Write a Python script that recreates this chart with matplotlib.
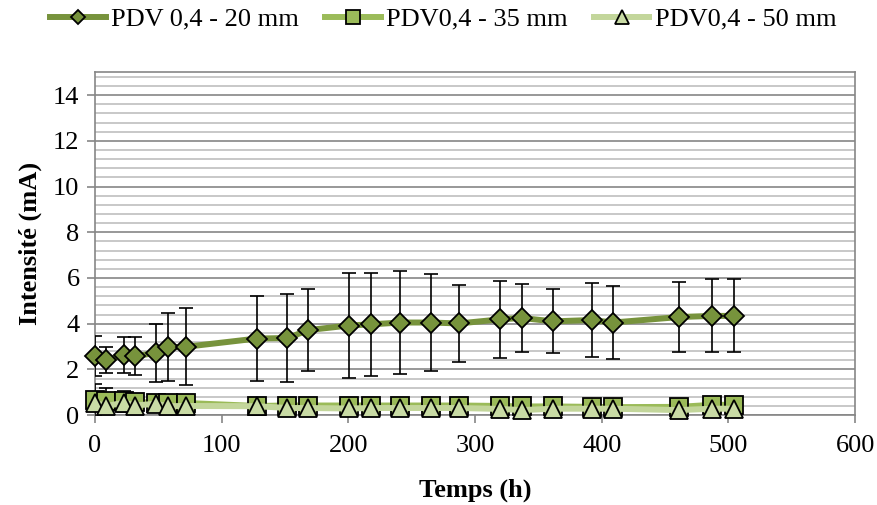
import matplotlib
matplotlib.use('Agg')
import matplotlib.pyplot as plt
from matplotlib.ticker import MultipleLocator

plt.rcParams['font.family'] = ['Liberation Serif', 'DejaVu Serif']

# temps (h)
x_data = [0, 9, 23, 32, 48, 57.5, 72, 128, 152, 168.5, 200.5, 218, 241, 265, 287.5,
          320, 337, 361.5, 392, 409, 461, 487, 504]

# PDV 0,4 - 20 mm
y_20 = [2.58, 2.42, 2.63, 2.57, 2.73, 2.97, 2.99, 3.35, 3.37, 3.72, 3.92, 3.97, 4.05,
        4.05, 4.01, 4.19, 4.25, 4.10, 4.16, 4.05, 4.29, 4.34, 4.34]
err_20 = [0.87, 0.57, 0.77, 0.83, 1.27, 1.48, 1.68, 1.86, 1.91, 1.78, 2.31, 2.26, 2.26,
          2.12, 1.68, 1.68, 1.48, 1.40, 1.60, 1.61, 1.55, 1.60, 1.60]

# PDV0,4 - 35 mm
y_35 = [0.67, 0.63, 0.60, 0.58, 0.53, 0.53, 0.53, 0.40, 0.42, 0.42, 0.42, 0.42, 0.42,
        0.42, 0.42, 0.40, 0.38, 0.38, 0.36, 0.35, 0.36, 0.45, 0.45]
err_35 = [0.70, 0.55, 0.45, 0.2, 0.15, 0.15, 0.15, 0.1, 0.1, 0.1, 0.1, 0.1, 0.1,
          0.1, 0.1, 0.1, 0.1, 0.1, 0.1, 0.1, 0.1, 0.1, 0.1]

# PDV0,4 - 50 mm
y_50 = [0.55, 0.39, 0.55, 0.42, 0.50, 0.39, 0.40, 0.39, 0.31, 0.31, 0.29, 0.31, 0.31,
        0.31, 0.31, 0.27, 0.22, 0.28, 0.28, 0.28, 0.22, 0.28, 0.28]
err_50 = [0.3, 0.2, 0.2, 0.15, 0.1, 0.1, 0.1, 0.1, 0.1, 0.1, 0.1, 0.1, 0.1,
          0.1, 0.1, 0.1, 0.1, 0.1, 0.1, 0.1, 0.1, 0.1, 0.1]

fs = 19

fig = plt.figure(figsize=(8.78, 5.05), dpi=100)
ax = fig.add_axes([0.108, 0.178, 0.866, 0.679])

series = [
    (y_20, err_20, 'D', 10, '#77933C', '#77933C', 'PDV 0,4 - 20 mm'),
    (y_35, err_35, 's', 13.5, '#9BBB59', '#9BBB59', 'PDV0,4 - 35 mm'),
    (y_50, err_50, '^', 13.5, '#C3D69B', '#C9DBA5', 'PDV0,4 - 50 mm'),
]

for y, e, m, ms, lc, fc, lab in series:
    ax.errorbar(x_data, y, yerr=e, fmt='none', ecolor='black', elinewidth=1.2,
                capsize=5, capthick=1.2, zorder=3)
    ax.plot(x_data, y, '-', color=lc, linewidth=4.3, marker=m, markersize=ms,
            markerfacecolor=fc, markeredgecolor='black', markeredgewidth=1.3,
            label=lab, zorder=4, clip_on=False)

ax.set_xlim(0, 600)
ax.set_ylim(0, 15)
ax.xaxis.set_major_locator(MultipleLocator(100))
ax.yaxis.set_minor_locator(MultipleLocator(0.4))
ax.set_yticks([0, 2, 4, 6, 8, 10, 12, 14])

ax.grid(axis='y', which='major', color='#868686', linewidth=1.2, zorder=0)
ax.grid(axis='y', which='minor', color='#BFBFBF', linewidth=1.2, zorder=0)
ax.set_axisbelow(True)

for s in ax.spines.values():
    s.set_color('#868686')
    s.set_linewidth(1.2)

ax.tick_params(axis='both', which='major', labelsize=fs, length=6, color='#868686',
               width=1.2, direction='out')
ax.tick_params(axis='y', which='minor', length=0)
ax.tick_params(axis='x', pad=8)
ax.tick_params(axis='y', pad=5)

ax.set_xlabel('Temps (h)', fontsize=fs, fontweight='bold', labelpad=16)
ax.set_ylabel('Intensité (mA)', fontsize=fs, fontweight='bold', labelpad=8)

fig.legend(loc='center', bbox_to_anchor=(0.505, 0.962), ncol=3, frameon=False,
           fontsize=fs, handlelength=2.1, columnspacing=1.0, handletextpad=0.2,
           markerscale=0.75)

fig.savefig('out.png', dpi=100)
